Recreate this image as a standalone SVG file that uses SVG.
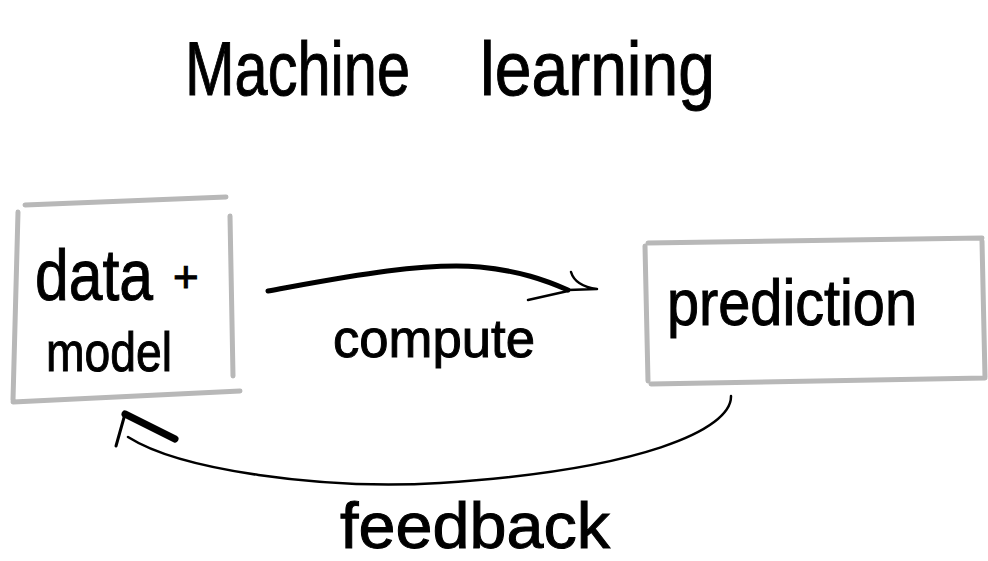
<svg xmlns="http://www.w3.org/2000/svg" width="988" height="561" viewBox="0 0 988 561">
<style>
.box{fill:none;stroke:#b8b8b8;stroke-width:5;stroke-linecap:round}
.ink{fill:none;stroke:#000;stroke-linecap:round;stroke-linejoin:round}
.t{font-family:"Liberation Sans","DejaVu Sans",sans-serif;fill:#000;stroke:#000;stroke-width:1}
</style>
<rect width="988" height="561" fill="#fff"/>
<g id="title">
<text class="t" x="185" y="95" font-size="76" textLength="225" lengthAdjust="spacingAndGlyphs">Machine</text>
<text class="t" x="480" y="95" font-size="76" textLength="235" lengthAdjust="spacingAndGlyphs">learning</text>
</g>
<g id="data-model">
<path class="box" d="M25,205 L226,197 M18,212 L13,400 M13,402 L240,391 M230,216 L233,376"/>
<text class="t" x="35" y="300" font-size="72" textLength="118" lengthAdjust="spacingAndGlyphs">data</text>
<text class="t" x="173" y="292" font-size="44" stroke-width="0">+</text>
<text class="t" x="46" y="371" font-size="56" textLength="126" lengthAdjust="spacingAndGlyphs">model</text>
</g>
<g id="prediction">
<path class="box" d="M648,243 L982,238 M645,246 L648,381 M651,384 L985,378 M982,241 L985,377"/>
<text class="t" x="667" y="325" font-size="64" textLength="250" lengthAdjust="spacingAndGlyphs">prediction</text>
</g>
<g id="connectors">
<path class="ink" stroke-width="5" d="M268,291 C340,278 420,262 480,267 C520,271 545,280 568,290"/>
<path class="ink" stroke-width="2.5" d="M568,290 L597,289 M571,272 C574,282 582,287 597,289 M528,300 L568,291"/>
<path class="ink" stroke-width="2.5" d="M731,396 C732,430 640,470 440,483 C320,490 180,470 128,437"/>
<path class="ink" stroke-width="3" d="M116,446 L125,414"/>
<path class="ink" stroke-width="7" d="M125,414 L175,439"/>
<text class="t" x="333" y="357" font-size="54" textLength="202" lengthAdjust="spacingAndGlyphs">compute</text>
<text class="t" x="340" y="548" font-size="64" textLength="270" lengthAdjust="spacingAndGlyphs">feedback</text>
</g>
</svg>
